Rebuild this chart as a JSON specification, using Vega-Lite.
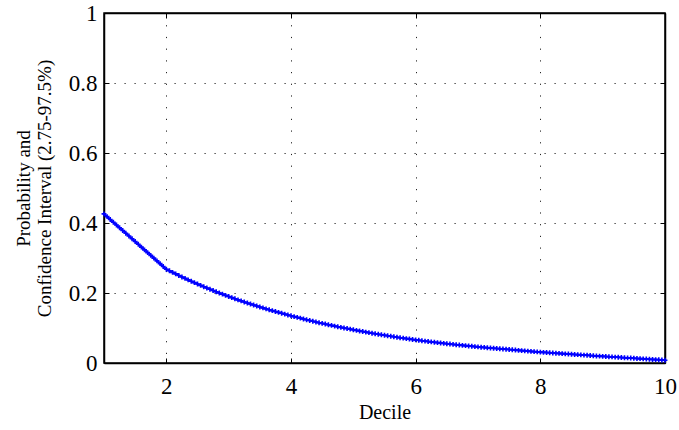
{
  "$schema": "https://vega.github.io/schema/vega-lite/v6.json",
  "width": 561,
  "height": 350,
  "autosize": "none",
  "padding": {"left": 104, "top": 13, "right": 14, "bottom": 67},
  "background": "white",
  "config": {
    "font": "Liberation Serif",
    "view": {"stroke": "black", "strokeWidth": 1.5},
    "axis": {
      "domainColor": "black", "domainWidth": 1.5,
      "tickColor": "black", "tickWidth": 1, "tickSize": -5,
      "labelColor": "black", "labelFont": "Liberation Serif", "labelFontSize": 23,
      "titleColor": "black", "titleFont": "Liberation Serif", "titleFontSize": 20, "titleFontWeight": "normal",
      "gridColor": "black", "gridOpacity": 0.85, "gridWidth": 1
    }
  },
  "data": {"values": [
    {"d":1,"p":0.426},{"d":1.05,"p":0.4181},{"d":1.1,"p":0.4102},{"d":1.15,"p":0.4023},{"d":1.2,"p":0.3944},{"d":1.25,"p":0.3865},{"d":1.3,"p":0.3786},{"d":1.35,"p":0.3707},{"d":1.4,"p":0.3628},{"d":1.45,"p":0.3549},{"d":1.5,"p":0.347},{"d":1.55,"p":0.3391},{"d":1.6,"p":0.3312},{"d":1.65,"p":0.3233},{"d":1.7,"p":0.3154},{"d":1.75,"p":0.3075},{"d":1.8,"p":0.2996},{"d":1.85,"p":0.2917},{"d":1.9,"p":0.2838},{"d":1.95,"p":0.2759},
    {"d":2,"p":0.268},{"d":2.05,"p":0.2634},{"d":2.1,"p":0.2589},{"d":2.15,"p":0.2545},{"d":2.2,"p":0.2502},{"d":2.25,"p":0.2459},{"d":2.3,"p":0.2417},{"d":2.35,"p":0.2376},{"d":2.4,"p":0.2336},{"d":2.45,"p":0.2296},{"d":2.5,"p":0.2257},{"d":2.55,"p":0.2218},{"d":2.6,"p":0.218},{"d":2.65,"p":0.2143},{"d":2.7,"p":0.2107},{"d":2.75,"p":0.2071},{"d":2.8,"p":0.2035},{"d":2.85,"p":0.2001},{"d":2.9,"p":0.1967},{"d":2.95,"p":0.1933},
    {"d":3,"p":0.19},{"d":3.05,"p":0.1868},{"d":3.1,"p":0.1836},{"d":3.15,"p":0.1805},{"d":3.2,"p":0.1774},{"d":3.25,"p":0.1744},{"d":3.3,"p":0.1715},{"d":3.35,"p":0.1686},{"d":3.4,"p":0.1657},{"d":3.45,"p":0.1629},{"d":3.5,"p":0.1601},{"d":3.55,"p":0.1574},{"d":3.6,"p":0.1547},{"d":3.65,"p":0.1521},{"d":3.7,"p":0.1495},{"d":3.75,"p":0.147},{"d":3.8,"p":0.1445},{"d":3.85,"p":0.142},{"d":3.9,"p":0.1396},{"d":3.95,"p":0.1373},
    {"d":4,"p":0.135},{"d":4.05,"p":0.1326},{"d":4.1,"p":0.1303},{"d":4.15,"p":0.1281},{"d":4.2,"p":0.1258},{"d":4.25,"p":0.1236},{"d":4.3,"p":0.1215},{"d":4.35,"p":0.1194},{"d":4.4,"p":0.1173},{"d":4.45,"p":0.1152},{"d":4.5,"p":0.1132},{"d":4.55,"p":0.1113},{"d":4.6,"p":0.1093},{"d":4.65,"p":0.1074},{"d":4.7,"p":0.1055},{"d":4.75,"p":0.1037},{"d":4.8,"p":0.1019},{"d":4.85,"p":0.1001},{"d":4.9,"p":0.0984},{"d":4.95,"p":0.0967},
    {"d":5,"p":0.095},{"d":5.05,"p":0.0933},{"d":5.1,"p":0.0916},{"d":5.15,"p":0.0899},{"d":5.2,"p":0.0883},{"d":5.25,"p":0.0867},{"d":5.3,"p":0.0852},{"d":5.35,"p":0.0836},{"d":5.4,"p":0.0821},{"d":5.45,"p":0.0806},{"d":5.5,"p":0.0792},{"d":5.55,"p":0.0777},{"d":5.6,"p":0.0763},{"d":5.65,"p":0.075},{"d":5.7,"p":0.0736},{"d":5.75,"p":0.0723},{"d":5.8,"p":0.071},{"d":5.85,"p":0.0697},{"d":5.9,"p":0.0684},{"d":5.95,"p":0.0672},
    {"d":6,"p":0.066},{"d":6.05,"p":0.0648},{"d":6.1,"p":0.0637},{"d":6.15,"p":0.0625},{"d":6.2,"p":0.0614},{"d":6.25,"p":0.0603},{"d":6.3,"p":0.0592},{"d":6.35,"p":0.0582},{"d":6.4,"p":0.0571},{"d":6.45,"p":0.0561},{"d":6.5,"p":0.0551},{"d":6.55,"p":0.0541},{"d":6.6,"p":0.0532},{"d":6.65,"p":0.0522},{"d":6.7,"p":0.0513},{"d":6.75,"p":0.0504},{"d":6.8,"p":0.0495},{"d":6.85,"p":0.0486},{"d":6.9,"p":0.0477},{"d":6.95,"p":0.0469},
    {"d":7,"p":0.046},{"d":7.05,"p":0.0452},{"d":7.1,"p":0.0445},{"d":7.15,"p":0.0437},{"d":7.2,"p":0.043},{"d":7.25,"p":0.0422},{"d":7.3,"p":0.0415},{"d":7.35,"p":0.0407},{"d":7.4,"p":0.04},{"d":7.45,"p":0.0392},{"d":7.5,"p":0.0385},{"d":7.55,"p":0.0377},{"d":7.6,"p":0.037},{"d":7.65,"p":0.0362},{"d":7.7,"p":0.0355},{"d":7.75,"p":0.0347},{"d":7.8,"p":0.034},{"d":7.85,"p":0.0332},{"d":7.9,"p":0.0325},{"d":7.95,"p":0.0317},
    {"d":8,"p":0.031},{"d":8.05,"p":0.0304},{"d":8.1,"p":0.0298},{"d":8.15,"p":0.0292},{"d":8.2,"p":0.0286},{"d":8.25,"p":0.028},{"d":8.3,"p":0.0274},{"d":8.35,"p":0.0268},{"d":8.4,"p":0.0262},{"d":8.45,"p":0.0256},{"d":8.5,"p":0.025},{"d":8.55,"p":0.0244},{"d":8.6,"p":0.0238},{"d":8.65,"p":0.0232},{"d":8.7,"p":0.0226},{"d":8.75,"p":0.022},{"d":8.8,"p":0.0214},{"d":8.85,"p":0.0208},{"d":8.9,"p":0.0202},{"d":8.95,"p":0.0196},
    {"d":9,"p":0.019},{"d":9.05,"p":0.0185},{"d":9.1,"p":0.0179},{"d":9.15,"p":0.0174},{"d":9.2,"p":0.0168},{"d":9.25,"p":0.0163},{"d":9.3,"p":0.0157},{"d":9.35,"p":0.0152},{"d":9.4,"p":0.0146},{"d":9.45,"p":0.0141},{"d":9.5,"p":0.0135},{"d":9.55,"p":0.013},{"d":9.6,"p":0.0124},{"d":9.65,"p":0.0119},{"d":9.7,"p":0.0113},{"d":9.75,"p":0.0108},{"d":9.8,"p":0.0102},{"d":9.85,"p":0.0097},{"d":9.9,"p":0.0091},{"d":9.95,"p":0.0086},
    {"d":10,"p":0.008}
  ]},
  "layer": [
    {
      "mark": {"type": "line", "color": "#0000ff", "strokeWidth": 2},
      "encoding": {
        "x": {"field": "d", "type": "quantitative", "scale": {"domain": [1, 10], "nice": false, "zero": false},
          "axis": {"orient": "bottom", "values": [2, 4, 6, 8, 10], "labelFont": "Liberation Serif", "labelFontSize": 23, "labelPadding": 17, "grid": true, "gridDash": [1.2, 10.5], "title": "Decile", "titlePadding": 4, "labelFlush": false}},
        "y": {"field": "p", "type": "quantitative", "scale": {"domain": [0, 1], "nice": false},
          "axis": {"orient": "left", "values": [0, 0.2, 0.4, 0.6, 0.8, 1], "labelFont": "Liberation Serif", "labelFontSize": 23, "labelPadding": 12, "grid": true, "gridDash": [1.2, 8.8],
            "labelExpr": "datum.value == 0 ? '0' : datum.value == 1 ? '1' : format(datum.value, '.1f')",
            "title": ["Probability and", "Confidence Interval (2.75-97.5%)"], "titleFontSize": 19, "titleLineHeight": 21, "titlePadding": 14}}
      }
    },
    {
      "mark": {"type": "point", "shape": "M-1,0H1M0,-1V1", "color": "#0000ff", "strokeWidth": 1.6, "size": 24, "filled": false, "opacity": 1},
      "encoding": {
        "x": {"field": "d", "type": "quantitative", "scale": {"domain": [1, 10], "nice": false, "zero": false},
          "axis": {"orient": "top", "values": [2, 4, 6, 8, 10], "labels": false, "grid": false, "title": null}},
        "y": {"field": "p", "type": "quantitative", "scale": {"domain": [0, 1], "nice": false},
          "axis": {"orient": "right", "values": [0, 0.2, 0.4, 0.6, 0.8, 1], "labels": false, "grid": false, "title": null}}
      }
    }
  ],
  "resolve": {"axis": {"x": "independent", "y": "independent"}}
}
